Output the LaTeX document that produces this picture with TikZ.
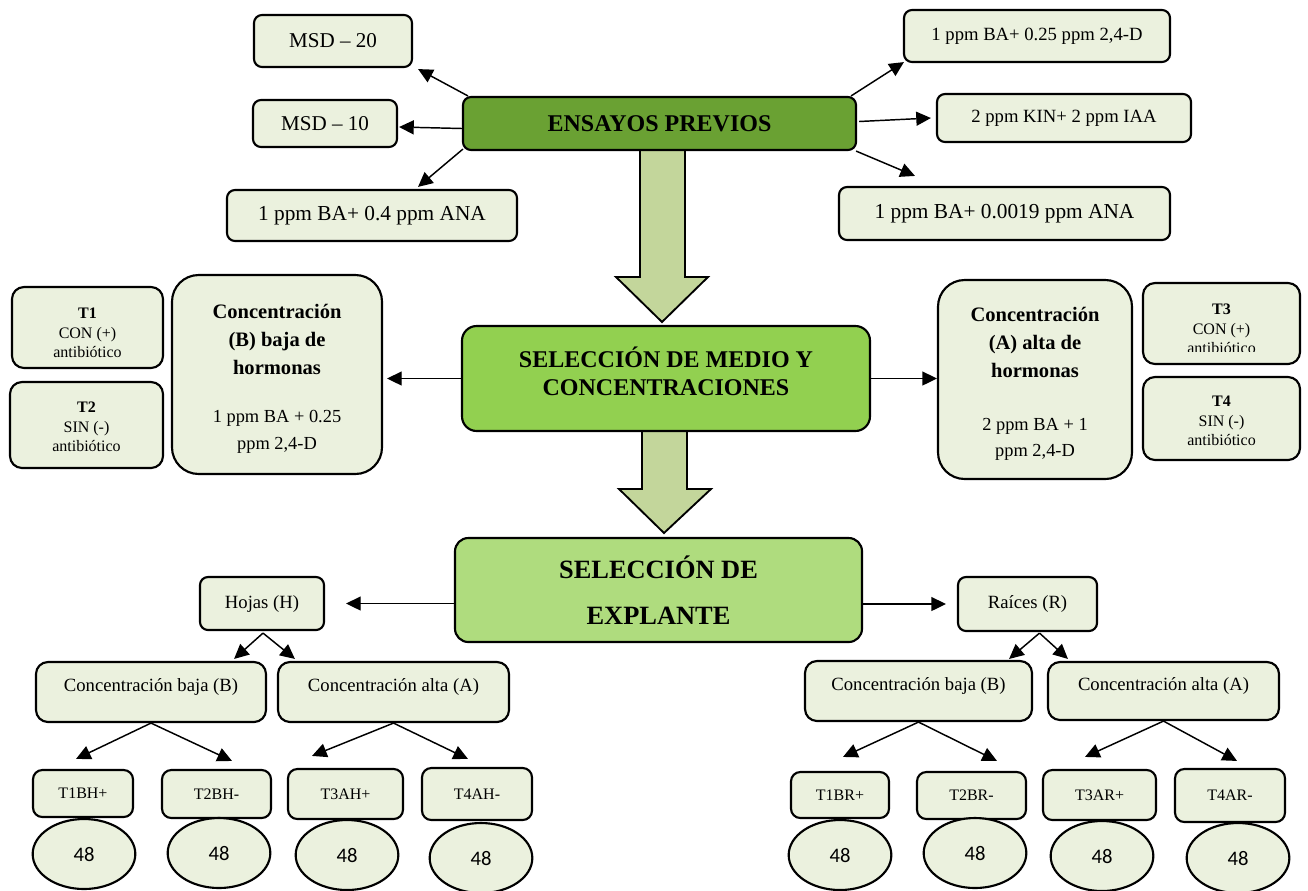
\documentclass[tikz,border=0pt]{standalone}
\usepackage{fontspec}
\setmainfont{Liberation Serif}
\newfontfamily\calib{Carlito}
\usetikzlibrary{shapes.geometric,arrows.meta,calc}
\definecolor{lt}{HTML}{EBF1DE}
\definecolor{dkg}{HTML}{6AA133}
\definecolor{mdg}{HTML}{92D050}
\definecolor{lg}{HTML}{AFDC7E}
\definecolor{arf}{HTML}{C3D69B}
\newcommand\fsz[2]{\fontsize{#1}{#2}\selectfont}
\begin{document}
\begin{tikzpicture}[x=0.75pt,y=-0.75pt,
  box/.style={draw=black, line width=1.6pt, fill=lt, rounded corners=6pt, inner sep=0pt, align=center},
  bx/.style n args={4}{at={({(#1+#3)/2},{(#2+#4)/2})}, minimum width={(#3-#1)*0.75pt}, minimum height={(#4-#2)*0.75pt}},
  arr/.style={line width=1.1pt, -{Triangle[length=11pt,width=10.5pt]}},
  blk/.style={draw=black, line width=1.4pt, fill=arf, line join=miter},
  ell/.style={ellipse, draw=black, line width=1.6pt, fill=lt, minimum width=77pt, minimum height=52.5pt, inner sep=0pt, font=\calib\fsz{15.5}{18}},
  cbox/.style={rounded corners=9pt, font=\fsz{14}{17}, text height=9.5pt, text depth=10.5pt},
  tsm/.style={rounded corners=7pt, font=\fsz{12}{14}},
  ttxt/.style={font=\fsz{12}{14.6}, align=center, inner sep=0pt},
]
\useasboundingbox (0,0) rectangle (1308,890);

% block arrows
\draw[blk] (640,150) -- (685,150) -- (685,277) -- (708,277) -- (662,322) -- (616,277) -- (640,277) -- cycle;
\draw[blk] (642,431) -- (687,431) -- (687,489) -- (711,489) -- (664,533) -- (619,489) -- (642,489) -- cycle;

% top row
\node[box, bx={254}{15}{412}{67}, font=\fsz{15.8}{19}] (msd20) {MSD – 20};
\node[box, bx={253}{100}{397}{147}, font=\fsz{15.8}{19}] (msd10) {MSD – 10};
\node[box, bx={227}{190}{517}{241}, font=\fsz{16}{19}] (ana04) {1 ppm BA+ 0.4 ppm ANA};
\node[box, fill=dkg, bx={463}{97}{856}{150}, font=\bfseries\fsz{18}{21}] (ens) {ENSAYOS PREVIOS};
\node[box, bx={904}{10}{1170}{62}, font=\fsz{14}{17}] (d025) {1 ppm BA+ 0.25 ppm 2,4-D};
\node[box, bx={937}{94}{1191}{142}, font=\fsz{14}{17}] (kin) {2 ppm KIN+ 2 ppm IAA};
\node[box, bx={839}{187}{1170}{240}, font=\fsz{16}{19}] (a0019) {1 ppm BA+ 0.0019 ppm ANA};

% middle
\node[box, fill=mdg, rounded corners=11pt, bx={462}{326}{870}{431}] (medio) {};
\node[font=\bfseries\fsz{18}{21}, align=center] (medioT) at ($(medio.center)+(0,-7.5)$) {SELECCIÓN DE MEDIO Y\\CONCENTRACIONES};

\node[box, rounded corners=20pt, bx={172}{275}{382}{474}] (concB) {};
\node[font=\bfseries\fsz{15.4}{21}, align=center] (concBh) at ($(concB.center)+(0,-35.5)$) {Concentración\\(B) baja de\\hormonas};
\node[font=\fsz{13.8}{20}, align=center] (concBv) at ($(concB.center)+(0,57)$) {1 ppm BA + 0.25\\ppm 2,4-D};

\node[box, rounded corners=20pt, bx={938}{280}{1132}{479}] (concA) {};
\node[font=\bfseries\fsz{15.4}{21}, align=center] (concAh) at ($(concA.center)+(0,-37)$) {Concentración\\(A) alta de\\hormonas};
\node[font=\fsz{13.8}{20}, align=center] (concAv) at ($(concA.center)+(0,60)$) {2 ppm BA + 1\\ppm 2,4-D};

\node[box, rounded corners=9pt, bx={12}{287}{163}{368}] (t1) {};
\node[ttxt] (t1T) at (87.5,333) {\textbf{T1}\\CON (+)\\antibiótico};
\node[box, rounded corners=9pt, bx={10}{382}{163}{468}] (t2) {};
\node[ttxt] (t2T) at (86.5,427) {\textbf{T2}\\SIN (-)\\antibiótico};
\node[box, rounded corners=9pt, bx={1143}{283}{1300}{364}] (t3) {};
\begin{scope}
\clip (1143,283) rectangle (1300,351);
\node[ttxt] (t3T) at (1221.5,329) {\textbf{T3}\\CON (+)\\antibiótico};
\end{scope}
\node[box, rounded corners=9pt, bx={1143}{377}{1300}{460}] (t4) {};
\node[ttxt] (t4T) at (1221.5,421) {\textbf{T4}\\SIN (-)\\antibiótico};

\node[box, rounded corners=10pt, fill=lg, bx={455}{538}{862}{642}, font=\bfseries\fsz{19.8}{35}] (expl) {SELECCIÓN DE\\EXPLANTE};

% bottom left
\node[box, bx={200}{577}{324}{630}, font=\fsz{14}{17}] (hojas) {Hojas (H)};
\node[box, cbox, bx={36}{662}{266}{722}] (cbl) {Concentración baja (B)};
\node[box, cbox, bx={278}{662}{509}{722}] (cal) {Concentración alta (A)};
\node[box, tsm, bx={33}{770}{133}{817}] (t1bh) {T1BH+};
\node[box, tsm, bx={162}{770}{271}{818}] (t2bh) {T2BH-};
\node[box, tsm, bx={288}{769}{403}{819}] (t3ah) {T3AH+};
\node[box, tsm, bx={422}{768}{532}{820}] (t4ah) {T4AH-};
\node[ell] (e1) at (84,854) {48};
\node[ell] (e2) at (219,853) {48};
\node[ell] (e3) at (347,855) {48};
\node[ell] (e4) at (481,858) {48};

% bottom right
\node[box, bx={958}{577}{1097}{631}, font=\fsz{14}{17}] (raices) {Raíces (R)};
\node[box, cbox, bx={805}{661}{1032}{721}] (cbr) {Concentración baja (B)};
\node[box, cbox, bx={1048}{662}{1279}{720}] (car) {Concentración alta (A)};
\node[box, tsm, bx={791}{772}{889}{818}] (t1br) {T1BR+};
\node[box, tsm, bx={917}{772}{1026}{819}] (t2br) {T2BR-};
\node[box, tsm, bx={1043}{770}{1156}{820}] (t3ar) {T3AR+};
\node[box, tsm, bx={1175}{769}{1285}{822}] (t4ar) {T4AR-};
\node[ell] (e5) at (840,855) {48};
\node[ell] (e6) at (975,853) {48};
\node[ell] (e7) at (1102,856) {48};
\node[ell] (e8) at (1238,858) {48};

% connectors top
\draw[arr] ($(ens.north west)+(6,0)$) -- ($(msd20.south east)+(5,1)$);
\draw[arr] ($(ens.west)+(0,5)$) -- ($(msd10.east)+(1,3.5)$);
\draw[arr] ($(ens.south west)+(1,-2)$) -- ($(ana04.north)+(46,-2)$);
\draw[arr] ($(ens.north east)+(-6,0)$) -- ($(d025.south west)+(1,-1)$);
\draw[arr] ($(ens.east)+(2,-2)$) -- ($(kin.west)+(-5,0)$);
\draw[arr] ($(ens.south east)+(-1,0)$) -- ($(a0019.north)+(-89.5,-10)$);

% connectors middle
\draw[arr] (medio.west) -- ($(medio.west -| concB.east)+(4,0)$);
\draw[arr] (medio.east) -- (medio.east -| concA.west);
\draw[arr] (expl.west |- hojas.center) -- ($(hojas.east)+(21,0)$);
\draw[arr] (expl.east |- raices.center) -- ($(raices.west)+(-11,0)$);

% tree left
\draw[arr] ($(hojas.south)+(1,2)$) -- ($(cbl.north east)+(-33,-2)$);
\draw[arr] ($(hojas.south)+(1,2)$) -- ($(cal.north west)+(18,-2)$);
\draw[arr] (cbl.south) -- ($(t1bh.north)+(-7,-10)$);
\draw[arr] (cbl.south) -- ($(t2bh.north)+(15.5,-8)$);
\draw[arr] (cal.south) -- ($(t3ah.north)+(-33.5,-12)$);
\draw[arr] (cal.south) -- ($(t4ah.north)+(-9,-8)$);

% tree right
\draw[arr] ($(raices.south)+(12,1)$) -- ($(cbr.north east)+(-24,-1)$);
\draw[arr] ($(raices.south)+(12,1)$) -- ($(car.north west)+(21,-2)$);
\draw[arr] (cbr.south) -- ($(t1br.north)+(3,-14)$);
\draw[arr] (cbr.south) -- ($(t2br.north)+(25.5,-10)$);
\draw[arr] (car.south) -- ($(t3ar.north)+(-14.5,-12)$);
\draw[arr] (car.south) -- ($(t4ar.north)+(7,-7)$);
\end{tikzpicture}
\end{document}
